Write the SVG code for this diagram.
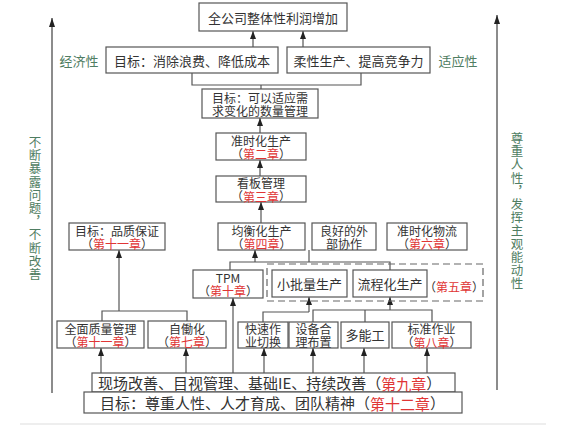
<svg xmlns="http://www.w3.org/2000/svg" width="566" height="425" viewBox="0 0 566 425">
<style>
.box{fill:#fff;stroke:#555;stroke-width:1.2}
.dash{fill:none;stroke:#666;stroke-width:1.2;stroke-dasharray:7 4}
.t{font-family:"Noto Sans CJK SC","Noto Sans CJK JP",sans-serif;font-size:13px;fill:#333;text-anchor:middle;dominant-baseline:central}
.s{font-size:12px}
.big{font-size:15px;text-anchor:start}
.r{fill:#e03535}
.g{fill:#4f7d62}
.v{font-family:"Noto Sans CJK SC",sans-serif;font-size:12.5px;fill:#4f7d62;writing-mode:vertical-rl;text-orientation:upright;letter-spacing:0.7px}
.c{fill:none;stroke:#555;stroke-width:1.2}
.a{fill:none;stroke:#555;stroke-width:1.2;marker-end:url(#ah)}
.ax{fill:none;stroke:#666;stroke-width:1.5;marker-end:url(#ah2)}
</style>
<defs>
<marker id="ah" markerUnits="userSpaceOnUse" markerWidth="8" markerHeight="6" refX="8" refY="3" orient="auto">
<path d="M0,0 L8,3 L0,6 z" fill="#222"/>
</marker>
<marker id="ah2" markerUnits="userSpaceOnUse" markerWidth="9" markerHeight="6" refX="9" refY="3" orient="auto">
<path d="M0,0 L9,3 L0,6 z" fill="#222"/>
</marker>
</defs>
<rect width="566" height="425" fill="#fff"/>
<line x1="20" y1="424" x2="546" y2="424" stroke="#ddd" stroke-width="1"/>

<g id="connectors">
<line class="ax" x1="52" y1="393" x2="52" y2="18"/>
<line class="ax" x1="497" y1="390" x2="497" y2="15"/>
<line class="a" x1="253" y1="47" x2="253" y2="31"/>
<line class="a" x1="303" y1="47" x2="303" y2="31"/>
<polyline class="c" points="192,73 192,85 361,85 361,73"/>
<line class="c" x1="261" y1="85" x2="261" y2="89"/>
<line class="a" x1="260" y1="133" x2="260" y2="118"/>
<line class="a" x1="260" y1="176" x2="260" y2="160"/>
<line class="a" x1="261" y1="223" x2="261" y2="202"/>
<polyline class="c" points="230,270 230,262 390,262 390,270"/>
<line class="c" x1="309" y1="262" x2="309" y2="250"/>
<line class="a" x1="255" y1="262" x2="255" y2="250"/>
<polyline class="c" points="102,321 102,311 187,311 187,321"/>
<line class="a" x1="119" y1="311" x2="119" y2="250"/>
<line class="a" x1="101" y1="373" x2="101" y2="348"/>
<line class="a" x1="186" y1="373" x2="186" y2="348"/>
<line class="a" x1="233" y1="373" x2="233" y2="298"/>
<polyline class="c" points="263,322 263,312 309,312"/>
<line class="a" x1="309" y1="312" x2="309" y2="297"/>
<polyline class="c" points="313,322 313,310 432,310 432,322"/>
<line class="c" x1="365" y1="310" x2="365" y2="322"/>
<line class="a" x1="390" y1="310" x2="390" y2="297"/>
<line class="a" x1="264" y1="373" x2="264" y2="348"/>
<line class="a" x1="313" y1="373" x2="313" y2="348"/>
<line class="a" x1="364" y1="373" x2="364" y2="348"/>
<line class="a" x1="427" y1="373" x2="427" y2="348"/>
</g>

<g id="labels">
<text class="t g" x="79" y="60">经济性</text>
<text class="t g" x="458" y="60">适应性</text>
<text class="v" x="35" y="136">不断暴露问题，不断改善</text>
<text class="v" x="517" y="132">尊重人性，发挥主观能动性</text>
</g>

<g id="n1"><rect class="box" x="199" y="3" width="148" height="28"/><text class="t" x="273" y="17">全公司整体性利润增加</text></g>
<g id="n2"><rect class="box" x="106" y="47" width="172" height="26"/><text class="t" x="192" y="60">目标：消除浪费、降低成本</text></g>
<g id="n3"><rect class="box" x="287" y="47" width="143" height="26"/><text class="t" x="358.5" y="60">柔性生产、提高竞争力</text></g>
<g id="n4"><rect class="box" x="202" y="89" width="116" height="29"/><text class="t s" x="260" y="97">目标：可以适应需</text><text class="t s" x="260" y="110">求变化的数量管理</text></g>
<g id="n5"><rect class="box" x="216" y="133" width="90" height="27"/><text class="t s" x="261" y="140">准时化生产</text><text class="t s" x="261" y="153">（<tspan class="r">第二章</tspan>）</text></g>
<g id="n6"><rect class="box" x="216" y="176" width="90" height="26"/><text class="t s" x="261" y="182.5">看板管理</text><text class="t s" x="261" y="195.5">（<tspan class="r">第三章</tspan>）</text></g>
<g id="n7"><rect class="box" x="218" y="223" width="87" height="27"/><text class="t s" x="261.5" y="230">均衡化生产</text><text class="t s" x="261.5" y="243">（<tspan class="r">第四章</tspan>）</text></g>
<g id="n8"><rect class="box" x="312" y="223" width="64" height="27"/><text class="t s" x="344" y="230">良好的外</text><text class="t s" x="344" y="243">部协作</text></g>
<g id="n9"><rect class="box" x="387" y="223" width="80" height="27"/><text class="t s" x="427" y="230">准时化物流</text><text class="t s" x="427" y="243">（<tspan class="r">第六章</tspan>）</text></g>
<g id="n10"><rect class="box" x="69" y="223" width="96" height="27"/><text class="t s" x="117" y="230">目标：品质保证</text><text class="t s" x="117" y="243">（<tspan class="r">第十一章</tspan>）</text></g>
<g id="n11"><rect class="box" x="193" y="270" width="70" height="28"/><text class="t s" x="228" y="277">TPM</text><text class="t s" x="228" y="290">（<tspan class="r">第十章</tspan>）</text></g>
<g id="g5"><rect class="dash" x="267" y="264" width="216" height="37"/><text class="t s" x="454" y="286">（<tspan class="r">第五章</tspan>）</text></g>
<g id="n12"><rect class="box" x="272" y="270" width="75" height="27"/><text class="t" x="309.5" y="283">小批量生产</text></g>
<g id="n13"><rect class="box" x="353" y="270" width="74" height="27"/><text class="t" x="390" y="283">流程化生产</text></g>
<g id="n14"><rect class="box" x="57" y="321" width="87" height="27"/><text class="t s" x="100.5" y="328">全面质量管理</text><text class="t s" x="100.5" y="341">（<tspan class="r">第十一章</tspan>）</text></g>
<g id="n15"><rect class="box" x="148" y="321" width="78" height="27"/><text class="t s" x="187" y="328">自働化</text><text class="t s" x="187" y="341">（<tspan class="r">第七章</tspan>）</text></g>
<g id="n16"><rect class="box" x="238" y="322" width="50" height="26"/><text class="t s" x="263" y="328.5">快速作</text><text class="t s" x="263" y="341.5">业切换</text></g>
<g id="n17"><rect class="box" x="289" y="322" width="49" height="26"/><text class="t s" x="313.5" y="328.5">设备合</text><text class="t s" x="313.5" y="341.5">理布置</text></g>
<g id="n18"><rect class="box" x="341" y="322" width="48" height="26"/><text class="t" x="365" y="334">多能工</text></g>
<g id="n19"><rect class="box" x="392" y="322" width="79" height="26"/><text class="t s" x="431.5" y="328.5">标准作业</text><text class="t s" x="431.5" y="341.5">（<tspan class="r">第八章</tspan>）</text></g>
<g id="n20"><rect class="box" x="92" y="373" width="363" height="19"/><text class="t big" x="98" y="382.5">现场改善、目视管理、基础IE、持续改善（<tspan class="r">第九章</tspan>）</text></g>
<g id="n21"><rect class="box" x="84" y="392" width="378" height="21"/><text class="t big" x="100" y="402.5">目标：尊重人性、人才育成、团队精神（<tspan class="r">第十二章</tspan>）</text></g>
</svg>
